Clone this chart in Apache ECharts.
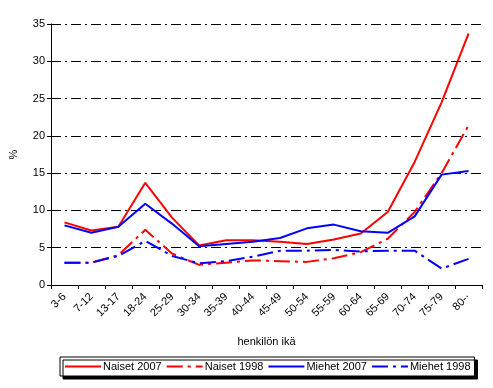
<!DOCTYPE html>
<html><head><meta charset="utf-8">
<script src="https://cdn.jsdelivr.net/npm/echarts@6/dist/echarts.min.js"></script>
<style>html,body{margin:0;padding:0;background:#fff}#c{width:493px;height:388px}</style>
</head><body><div id="c"></div>
<script>
const categories = ['3-6','7-12','13-17','18-24','25-29','30-34','35-39','40-44','45-49','50-54','55-59','60-64','65-69','70-74','75-79','80-'];
const naiset2007 = [8.4,7.3,7.8,13.7,9.0,5.3,6.0,6.0,5.8,5.5,6.1,6.9,9.8,16.5,24.5,33.7];
const naiset1998 = [3.0,3.0,4.0,7.4,4.2,2.7,3.0,3.3,3.2,3.1,3.6,4.4,6.2,9.8,15.0,21.4];
const miehet2007 = [8.0,7.0,7.8,10.9,8.2,5.2,5.5,5.8,6.3,7.6,8.1,7.2,7.0,9.2,14.8,15.3];
const miehet1998 = [3.0,3.0,3.9,5.9,3.9,2.9,3.2,3.8,4.6,4.6,4.7,4.5,4.6,4.6,2.2,3.5];
const yTicks = [0,5,10,15,20,25,30,35];

const font = 'Liberation Sans, Arial, sans-serif';
const dashDot = [16,5,3,5];
const chart = echarts.init(document.getElementById('c'));
function line(name, data, color, dashed){
  return {name, type:'line', data, symbol:'none', smooth:false, z: dashed?2:3,
    lineStyle:{color, width:2, type: dashed?dashDot:'solid'}, itemStyle:{color}};
}
chart.setOption({
  animation:false,
  textStyle:{fontFamily:font},
  grid:{left:49, right:11, top:24, bottom:103, containLabel:false},
  xAxis:{type:'category', data:categories, boundaryGap:true,
    name:'henkilön ikä', nameLocation:'middle', nameGap:51,
    nameTextStyle:{color:'#000', fontSize:11, fontFamily:font},
    axisLine:{lineStyle:{color:'#000', width:1}},
    axisTick:{show:true, alignWithLabel:false, length:4, lineStyle:{color:'#000'}},
    axisLabel:{rotate:45, color:'#000', fontSize:11, fontFamily:font, margin:10, interval:0, formatter:v=>v==='80-'?'80-\u00b7':v},
    splitLine:{show:false}},
  yAxis:{type:'value', min:yTicks[0], max:yTicks[yTicks.length-1], interval:5,
    name:'%', nameLocation:'middle', nameGap:32, nameRotate:90,
    nameTextStyle:{color:'#000', fontSize:11, fontFamily:font},
    axisLine:{show:true, lineStyle:{color:'#000', width:1}},
    axisTick:{show:true, length:4, lineStyle:{color:'#000'}},
    axisLabel:{color:'#000', fontSize:11, fontFamily:font, margin:6},
    splitLine:{show:true, lineStyle:{color:'#000', width:1, type:[10,4,2,4]}}},
  legend:{left:60, top:357, itemWidth:36, itemHeight:12, itemGap:4,
    padding:[4,4,4,4], borderColor:'#000', borderWidth:1, backgroundColor:'#fff',
    shadowColor:'#000', shadowOffsetX:3, shadowOffsetY:3, shadowBlur:0,
    itemStyle:{opacity:0},
    textStyle:{color:'#000', fontSize:11, fontFamily:font, padding:[0,0,0,-3]},
    data:['Naiset 2007','Naiset 1998','Miehet 2007','Miehet 1998']},
  series:[
    line('Naiset 2007', naiset2007, '#ff0000', false),
    line('Naiset 1998', naiset1998, '#ff0000', true),
    line('Miehet 2007', miehet2007, '#0000ff', false),
    line('Miehet 1998', miehet1998, '#0000ff', true)
  ]
});
</script></body></html>
